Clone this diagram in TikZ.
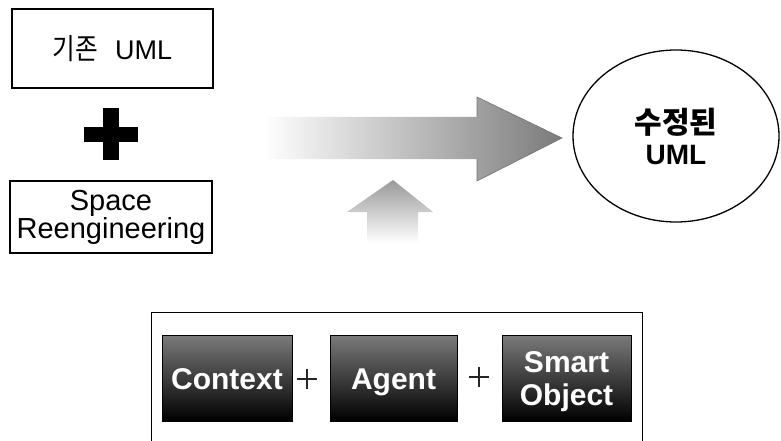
\documentclass[tikz,border=0pt]{standalone}
\usepackage{fontspec}
\setmainfont{Liberation Sans}
\newfontfamily\krfont{Noto Sans CJK KR}
\usetikzlibrary{shapes.geometric}

\begin{document}
\begin{tikzpicture}[x=1pt,y=-1pt,
  plainbox/.style={draw, line width=1.2pt, rectangle, inner sep=0pt, align=center},
  darkbox/.style={draw=black, line width=0.6pt, top color=black!52, bottom color=black,
    text=white, font=\fontsize{30}{33}\selectfont\bfseries, inner sep=0pt, align=center,
    minimum height=86pt},
  oneline/.style={text height=22pt, text depth=0pt},
  twoline/.style={text height=58pt, text depth=4pt},
  plusmark/.style={inner sep=0pt, minimum size=20pt},
  plusline/.style={line width=1.3pt, black!85},
]
\useasboundingbox (0,0) rectangle (781,441);

% the two inputs on the left
\node[plainbox, minimum width=201pt, minimum height=79pt] (uml) at (112.5,48.5)
  {\scalebox{0.85}[1]{\krfont\fontsize{29}{29}\selectfont 기존}\hspace{17pt}{\fontsize{27}{27}\selectfont UML}};
\node[plainbox, minimum width=202pt, minimum height=72pt,
  font=\fontsize{29}{26}\selectfont] (space) at (111,217)
  {\raisebox{-3pt}{Space}\\\raisebox{-3pt}{Reengineering}};

% heavy plus between them
\fill (103,108) rectangle (119,160);
\fill (84,127) rectangle (138,142);

% wide fading arrow towards the result
\shade[left color=white, right color=black!52]
  (263,117) -- (477,117) -- (477,97) -- (562,138) -- (477,181) -- (477,159) -- (263,159) -- cycle;
\draw[black!55, line width=0.6pt] (477,117) -- (477,97) -- (562,138) -- (477,181) -- (477,159);

% small faded arrow pointing up
\shade[top color=black!40, bottom color=white]
  (393,180) -- (433,212) -- (418,212) -- (418,243) -- (367,243) -- (367,212) -- (347,212) -- cycle;

% result
\node[draw, ellipse, line width=1.3pt, minimum width=206pt, minimum height=172pt,
  inner sep=0pt, align=center, font=\bfseries\fontsize{28}{31}\selectfont] (result) at (676,136)
  {{\krfont\fontsize{30}{31}\selectfont 수정된}\\UML};

% frame with the three parts
\node[draw, line width=1pt, minimum width=491pt, minimum height=160pt, inner sep=0pt]
  (frame) at (396.5,392) {};
\node[darkbox, oneline, minimum width=130pt] (ctx) at (227,378) {Context};
\node[darkbox, oneline, minimum width=127pt] (agent) at (393.5,378) {Agent};
\node[darkbox, twoline, minimum width=129pt] (smart) at (566.5,378) {Smart\\Object};

% thin plus marks between the parts
\node[plusmark] (plusA) at (307,379) {};
\node[plusmark] (plusB) at (479,377) {};
\foreach \p in {plusA,plusB}{
  \draw[plusline] (\p.west) -- (\p.east);
  \draw[plusline] (\p.north) -- (\p.south);
}
\end{tikzpicture}
\end{document}
